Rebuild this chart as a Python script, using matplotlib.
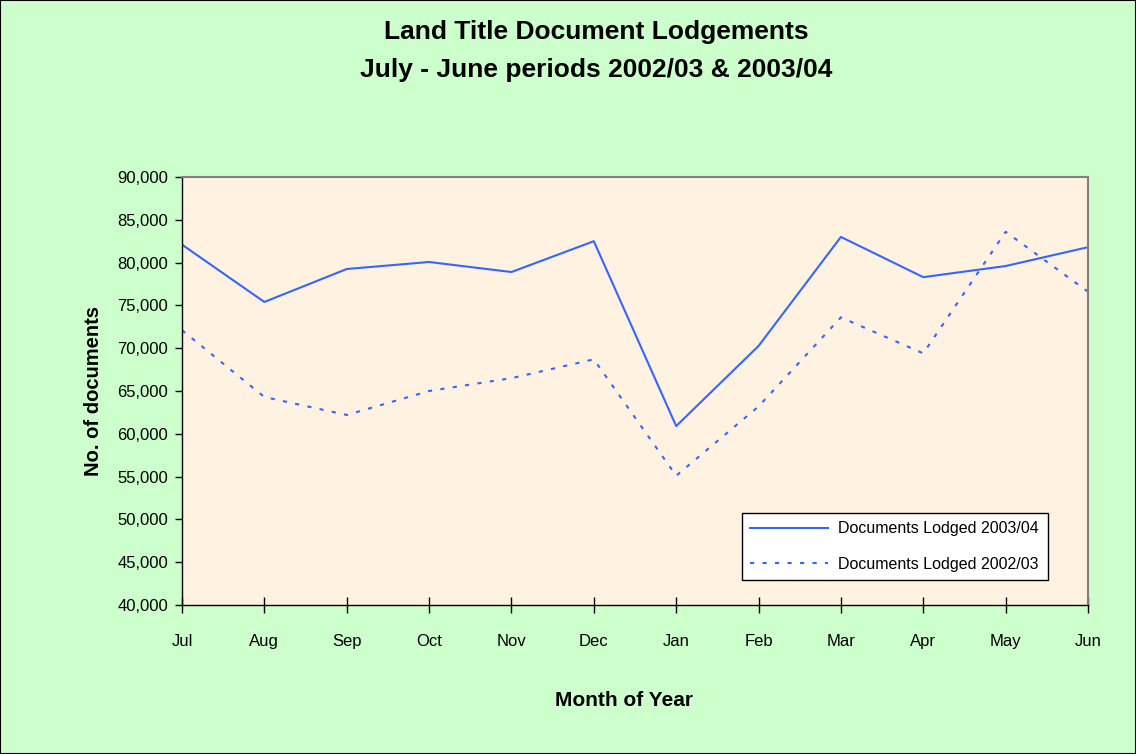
import numpy as np
import matplotlib
matplotlib.use("Agg")
import matplotlib.pyplot as plt
from matplotlib.ticker import FuncFormatter

plt.rcParams['font.family'] = ['Liberation Sans', 'DejaVu Sans']

# datos
meses = ["Jul", "Aug", "Sep", "Oct", "Nov", "Dec", "Jan", "Feb", "Mar", "Apr", "May", "Jun"]
docs_0304 = [82100, 75400, 79250, 80070, 78900, 82500, 60900, 70260, 83000, 78300, 79600, 81800]
docs_0203 = [72100, 64300, 62200, 65000, 66500, 68700, 55100, 63200, 73600, 69400, 83600, 76600]

verde = "#ccffcc"
fondo = "#fff2e0"
azul = "#3366ff"

fig = plt.figure(figsize=(11.36, 7.54), dpi=100, facecolor=verde)
ax = fig.add_axes([182/1136, 1-605/754, (1088-182)/1136, (605-177)/754])
ax.set_facecolor(fondo)

x = np.arange(len(meses))
ax.plot(x, docs_0304, color=azul, lw=1.5, label="Documents Lodged 2003/04")
ax.plot(x, docs_0203, color=azul, lw=1.5, ls=(0, (2, 4)), label="Documents Lodged 2002/03")

ax.set_xlim(0, len(meses)-1)
ax.set_ylim(40000, 90000)
ax.set_yticks(np.arange(40000, 90001, 5000))
ax.yaxis.set_major_formatter(FuncFormatter(lambda v, p: f"{int(v):,}"))
ax.set_xticks(x)
ax.set_xticklabels(meses)
ax.tick_params(axis='x', direction='inout', length=12, width=1, labelsize=12, pad=15)
ax.tick_params(axis='y', direction='out', length=5, width=1, labelsize=12, pad=5)

for s in ["top", "right"]:
    ax.spines[s].set_color("#808080")
    ax.spines[s].set_linewidth(1.5)
for s in ["left", "bottom"]:
    ax.spines[s].set_color("black")
    ax.spines[s].set_linewidth(1)

ax.set_ylabel("No. of documents", fontsize=14.5, fontweight="bold", labelpad=10)
fig.text(624/1136, 1-700/754, "Month of Year", ha="center", va="center",
         fontsize=15, fontweight="bold")

fig.text(596/1136, 1-32/754, "Land Title Document Lodgements", ha="center", va="center",
         fontsize=19, fontweight="bold")
fig.text(596/1136, 1-70/754, "July - June periods 2002/03 & 2003/04", ha="center", va="center",
         fontsize=19, fontweight="bold")

leg = ax.legend(loc="lower left", bbox_to_anchor=((742-182)/906, (605-580)/428, (1048-742)/906, (580-506)/428),
                mode="expand", fancybox=False, framealpha=1, edgecolor="black", fontsize=11.5,
                handlelength=4.9, handletextpad=0.6, borderpad=0.5, labelspacing=1.3, borderaxespad=0)
leg.get_frame().set_linewidth(1)

# borde de la figura
fig.patches.append(plt.Rectangle((0, 0), 1, 1, transform=fig.transFigure, fill=False,
                                 edgecolor="black", lw=1.5))

plt.savefig("out.png", dpi=100, facecolor=verde)
